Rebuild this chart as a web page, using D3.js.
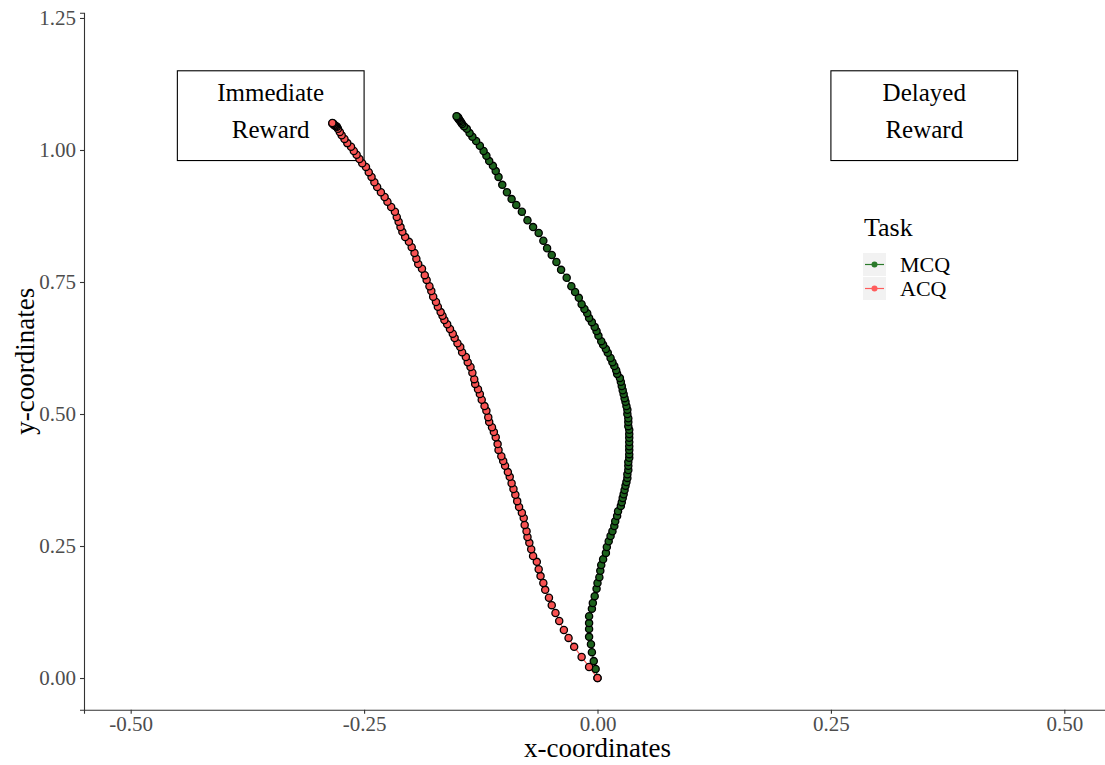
<!DOCTYPE html>
<html>
<head>
<meta charset="utf-8">
<script src="https://cdn.jsdelivr.net/npm/d3@7"></script>
<style>
  html, body { margin: 0; padding: 0; background: #fff; overflow: hidden; }
  svg { display: block; font-family: "Liberation Serif", "Times New Roman", serif; }
</style>
</head>
<body>
<svg id="chart" width="1105" height="765"></svg>
<script>
// Mean mouse trajectories (time-normalised), from start (0,0) to response box
const acqX = [0.000,-0.009,-0.017,-0.025,-0.031,-0.036,-0.041,-0.045,-0.049,-0.052,
  -0.056,-0.058,-0.061,-0.063,-0.065,-0.069,-0.071,-0.073,-0.075,-0.076,
  -0.078,-0.079,-0.081,-0.084,-0.086,-0.088,-0.090,-0.092,-0.094,-0.096,
  -0.099,-0.101,-0.103,-0.106,-0.107,-0.109,-0.111,-0.113,-0.116,-0.117,
  -0.119,-0.121,-0.124,-0.126,-0.128,-0.131,-0.132,-0.134,-0.136,-0.139,
  -0.141,-0.145,-0.147,-0.150,-0.153,-0.155,-0.158,-0.161,-0.164,-0.166,
  -0.168,-0.171,-0.173,-0.176,-0.178,-0.180,-0.183,-0.185,-0.188,-0.192,
  -0.194,-0.196,-0.199,-0.202,-0.206,-0.209,-0.211,-0.213,-0.215,-0.217,
  -0.221,-0.225,-0.228,-0.232,-0.236,-0.239,-0.242,-0.245,-0.248,-0.252,
  -0.255,-0.258,-0.261,-0.264,-0.268,-0.271,-0.274,-0.276,-0.278,-0.279,
  -0.280,-0.281,-0.282,-0.282,-0.283,-0.283,-0.284,-0.284];
const acqY = [0.000,0.021,0.040,0.059,0.076,0.091,0.108,0.123,0.138,0.152,
  0.167,0.180,0.193,0.206,0.220,0.231,0.244,0.256,0.267,0.278,
  0.290,0.303,0.313,0.324,0.335,0.347,0.358,0.369,0.381,0.390,
  0.402,0.411,0.420,0.432,0.443,0.456,0.466,0.475,0.485,0.494,
  0.506,0.515,0.527,0.538,0.547,0.557,0.566,0.578,0.589,0.598,
  0.608,0.617,0.627,0.634,0.644,0.652,0.661,0.670,0.678,0.686,
  0.693,0.703,0.712,0.722,0.733,0.742,0.754,0.763,0.775,0.784,
  0.794,0.805,0.816,0.826,0.835,0.845,0.854,0.864,0.873,0.883,
  0.892,0.902,0.911,0.920,0.930,0.939,0.949,0.958,0.968,0.975,
  0.983,0.991,0.998,1.006,1.013,1.021,1.028,1.034,1.040,1.044,
  1.045,1.046,1.047,1.048,1.049,1.050,1.050,1.051];

const mcqX = [0.000,-0.002,-0.004,-0.006,-0.007,-0.009,-0.009,-0.009,-0.009,-0.006,
  -0.005,-0.003,-0.001,0.000,0.002,0.003,0.004,0.006,0.009,0.010,
  0.012,0.014,0.016,0.018,0.019,0.021,0.022,0.025,0.026,0.027,
  0.028,0.029,0.030,0.031,0.032,0.032,0.033,0.033,0.033,0.034,
  0.034,0.034,0.034,0.034,0.034,0.034,0.034,0.033,0.033,0.033,
  0.032,0.032,0.031,0.030,0.029,0.028,0.027,0.026,0.025,0.024,
  0.021,0.020,0.018,0.016,0.014,0.011,0.009,0.006,0.004,0.001,
  -0.001,-0.003,-0.006,-0.009,-0.011,-0.014,-0.017,-0.020,-0.024,-0.028,
  -0.033,-0.039,-0.044,-0.049,-0.054,-0.058,-0.063,-0.069,-0.075,-0.081,
  -0.087,-0.092,-0.097,-0.102,-0.106,-0.109,-0.112,-0.116,-0.119,-0.122,
  -0.126,-0.130,-0.134,-0.137,-0.140,-0.143,-0.145,-0.146,-0.147,-0.148,
  -0.149,-0.149,-0.150,-0.150,-0.151];
const mcqY = [0.000,0.017,0.032,0.049,0.064,0.078,0.093,0.104,0.117,0.131,
  0.142,0.155,0.169,0.180,0.191,0.203,0.214,0.225,0.237,0.248,
  0.259,0.269,0.278,0.288,0.297,0.307,0.316,0.326,0.333,0.341,
  0.348,0.356,0.364,0.371,0.379,0.386,0.394,0.402,0.409,0.417,
  0.424,0.432,0.439,0.447,0.455,0.462,0.470,0.477,0.485,0.492,
  0.500,0.508,0.515,0.523,0.530,0.538,0.545,0.553,0.561,0.568,
  0.576,0.583,0.591,0.598,0.606,0.616,0.623,0.631,0.638,0.648,
  0.657,0.665,0.674,0.682,0.691,0.699,0.708,0.720,0.731,0.742,
  0.758,0.773,0.788,0.801,0.814,0.828,0.843,0.854,0.867,0.883,
  0.896,0.907,0.920,0.934,0.949,0.960,0.970,0.979,0.989,0.998,
  1.008,1.017,1.025,1.032,1.040,1.045,1.049,1.052,1.055,1.057,
  1.059,1.061,1.062,1.063,1.064];

const xTicks = [-0.50, -0.25, 0.00, 0.25, 0.50];
const yTicks = [0.00, 0.25, 0.50, 0.75, 1.00, 1.25];

// Response boxes
const boxLabels = [["Immediate", "Reward"], ["Delayed", "Reward"]];
const boxX0 = [-0.45, 0.25];
const boxX1 = [-0.25, 0.45];
const boxY0 = [0.98, 0.98];
const boxY1 = [1.15, 1.15];

const taskNames = ["MCQ", "ACQ"];
const taskColors = ["#1d621d", "#f75252"];
const lineColors = ["#2a7a2a", "#ff5c5c"];

const series = [
  { name: "MCQ", pts: mcqX.map((x, i) => ({ x, y: mcqY[i] })), fill: taskColors[0], line: lineColors[0] },
  { name: "ACQ", pts: acqX.map((x, i) => ({ x, y: acqY[i] })), fill: taskColors[1], line: lineColors[1] }
];

const svg = d3.select("#chart");

const x = d3.scaleLinear().domain([-0.55, 0.55]).range([84, 1111]);
const y = d3.scaleLinear().domain([-0.06, 1.26]).range([709.7, 12.7]);

const fmt = d => d3.format(".2f")(d).replace("−", "-");

// Axes
const xAxis = d3.axisBottom(x).tickValues(xTicks).tickFormat(fmt).tickSize(4).tickPadding(3);
const yAxis = d3.axisLeft(y).tickValues(yTicks).tickFormat(fmt).tickSize(4).tickPadding(4);

const gx = svg.append("g").attr("transform", "translate(0,709.7)").call(xAxis);
const gy = svg.append("g").attr("transform", "translate(84,0)").call(yAxis);

[gx, gy].forEach(g => {
  g.select(".domain").attr("stroke", "#333").attr("stroke-width", 1.1);
  g.selectAll(".tick line").attr("stroke", "#333").attr("stroke-width", 1.1);
  g.selectAll(".tick text")
    .attr("fill", "#4d4d4d")
    .style("font-family", "'Liberation Serif', serif")
    .style("font-size", "21px");
});
gx.selectAll(".tick text").attr("dy", "0.68em");

// Axis titles
svg.append("text")
  .attr("x", x(0)).attr("y", 757)
  .attr("text-anchor", "middle")
  .style("font-size", "27px").attr("fill", "#000")
  .text("x-coordinates");

svg.append("text")
  .attr("transform", `translate(34,${y(0.6)}) rotate(-90)`)
  .attr("text-anchor", "middle")
  .style("font-size", "27px").attr("fill", "#000")
  .text("y-coordinates");

// Response boxes with labels
boxLabels.forEach((lines, i) => {
  svg.append("rect")
    .attr("x", x(boxX0[i])).attr("y", y(boxY1[i]))
    .attr("width", x(boxX1[i]) - x(boxX0[i]))
    .attr("height", y(boxY0[i]) - y(boxY1[i]))
    .attr("fill", "none").attr("stroke", "#000").attr("stroke-width", 1.1);
  const cx = (x(boxX0[i]) + x(boxX1[i])) / 2;
  lines.forEach((t, j) => {
    svg.append("text")
      .attr("x", cx).attr("y", 101 + j * 37)
      .attr("text-anchor", "middle")
      .style("font-size", "25px").attr("fill", "#000")
      .text(t);
  });
});

// Trajectory paths, then points
const line = d3.line().x(d => x(d.x)).y(d => y(d.y));
series.forEach(s => {
  svg.append("path")
    .datum(s.pts)
    .attr("d", line)
    .attr("fill", "none")
    .attr("stroke", s.line)
    .attr("stroke-width", 1.2);
});
series.forEach(s => {
  svg.append("g").selectAll("circle")
    .data(s.pts)
    .join("circle")
    .attr("cx", d => x(d.x))
    .attr("cy", d => y(d.y))
    .attr("r", 3.6)
    .attr("fill", s.fill)
    .attr("stroke", "#000")
    .attr("stroke-width", 1.3);
});

// Legend
const lg = svg.append("g").attr("transform", "translate(863,0)");
lg.append("text").attr("x", 1).attr("y", 236)
  .style("font-size", "26px").attr("fill", "#000").text("Task");
taskNames.forEach((name, i) => {
  const ky = 253 + i * 24;
  lg.append("rect").attr("x", 0).attr("y", ky).attr("width", 23).attr("height", 23).attr("fill", "#f2f2f2");
  lg.append("line").attr("x1", 2).attr("x2", 21).attr("y1", ky + 11.5).attr("y2", ky + 11.5)
    .attr("stroke", lineColors[i]).attr("stroke-width", 1.2);
  lg.append("circle").attr("cx", 11.5).attr("cy", ky + 11.5).attr("r", 3)
    .attr("fill", lineColors[i]);
  lg.append("text").attr("x", 37).attr("y", ky + 19)
    .style("font-size", "22px").attr("fill", "#000").text(name);
});
</script>
</body>
</html>
